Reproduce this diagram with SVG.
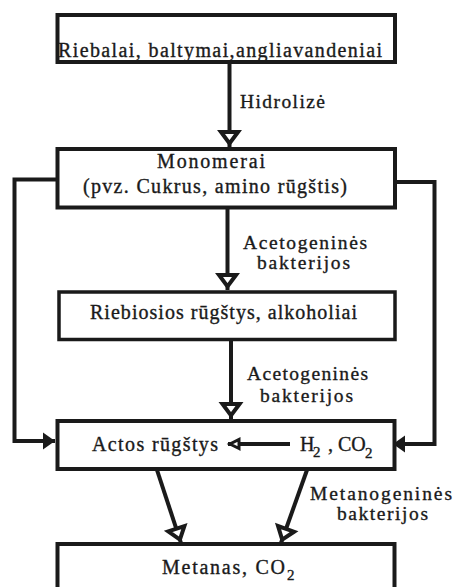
<svg xmlns="http://www.w3.org/2000/svg" width="454" height="587" viewBox="0 0 454 587">
<style>
.box{fill:#fff;stroke:#1a1a1a;stroke-width:4}
.ln{fill:none;stroke:#1a1a1a;stroke-width:4;stroke-linejoin:miter}
.t,.lb{font-family:"Liberation Serif","Times New Roman",serif;font-size:20px;fill:#1a1a1a;stroke:#1a1a1a;stroke-width:0.35}
.lb{font-size:19.5px}
.s{font-size:15px}
</style>
<defs>
<marker id="open" markerUnits="userSpaceOnUse" markerWidth="30" markerHeight="30" viewBox="-24 -15 30 30" refX="0" refY="0" orient="auto" overflow="visible">
<path d="M-15,-8.5 L-3.5,0 L-15,8.5 Z" fill="#fff" stroke="#1a1a1a" stroke-width="4" stroke-linejoin="miter"/>
</marker>
<marker id="opensm" markerUnits="userSpaceOnUse" markerWidth="20" markerHeight="20" viewBox="-16 -10 20 20" refX="0" refY="0" orient="auto" overflow="visible">
<path d="M-11,-4.5 L-2,0 L-11,4.5 Z" fill="#fff" stroke="#1a1a1a" stroke-width="3" stroke-linejoin="miter"/>
</marker>
<marker id="fill" markerUnits="userSpaceOnUse" markerWidth="20" markerHeight="20" viewBox="-16 -10 20 20" refX="0" refY="0" orient="auto" overflow="visible">
<path d="M-12,-8.5 L0,0 L-12,8.5 Z" fill="#1a1a1a"/>
</marker>
</defs>
<rect width="454" height="587" fill="#fff"/>
<g id="connectors">
<path class="ln" d="M229.5,62 L229.5,147" marker-end="url(#open)"/>
<path class="ln" d="M227.5,208 L227.5,290" marker-end="url(#open)"/>
<path class="ln" d="M231,340 L231,419" marker-end="url(#open)"/>
<path class="ln" d="M57,179.5 L14.5,179.5 L14.5,441 L55,441" marker-end="url(#fill)"/>
<path class="ln" d="M395,182 L434.5,182 L434.5,444 L393,444" marker-end="url(#fill)"/>
<path class="ln" d="M157,470 L181,543" marker-end="url(#open)"/>
<path class="ln" d="M307,470 L281,543" marker-end="url(#open)"/>
</g>
<g id="n1">
<rect class="box" x="57.5" y="15" width="337.5" height="47"/>
<text class="t" x="58" y="57" textLength="324">Riebalai, baltymai,angliavandeniai</text>
</g>
<g id="l1"><text class="lb" x="240" y="108" textLength="85">Hidrolizė</text></g>
<g id="n2">
<rect class="box" x="57.5" y="149" width="337.5" height="58.5"/>
<text class="t" x="157" y="168" textLength="108">Monomerai</text>
<text class="t" x="83" y="193" textLength="264">(pvz. Cukrus, amino rūgštis)</text>
</g>
<g id="l2">
<text class="lb" x="243" y="249" textLength="124">Acetogeninės</text>
<text class="lb" x="257" y="269" textLength="93">bakterijos</text>
</g>
<g id="n3">
<rect class="box" x="59" y="292" width="336" height="47.5" style="stroke-width:3.5"/>
<text class="t" x="90" y="319" textLength="267">Riebiosios rūgštys, alkoholiai</text>
</g>
<g id="l3">
<text class="lb" x="247" y="380" textLength="121">Acetogeninės</text>
<text class="lb" x="260" y="402" textLength="93">bakterijos</text>
</g>
<g id="n4">
<rect class="box" x="57.5" y="421" width="337" height="48"/>
<text class="t" x="92" y="451" textLength="126">Actos rūgštys</text>
<path class="ln" d="M290,444 L228,444" marker-end="url(#opensm)"/>
<text class="t" x="300" y="451">H<tspan class="s" x="313" y="457">2</tspan><tspan x="328" y="451">, C</tspan>O<tspan class="s" x="365" y="458">2</tspan></text>
</g>
<g id="l4">
<text class="lb" x="310" y="500" textLength="142">Metanogeninės</text>
<text class="lb" x="337" y="520" textLength="91">bakterijos</text>
</g>
<g id="n5">
<rect class="box" x="57.5" y="544" width="337" height="60"/>
<text class="t" x="162" y="574"><tspan textLength="123">Metanas, CO</tspan><tspan class="s" x="287" y="580">2</tspan></text>
</g>
</svg>
